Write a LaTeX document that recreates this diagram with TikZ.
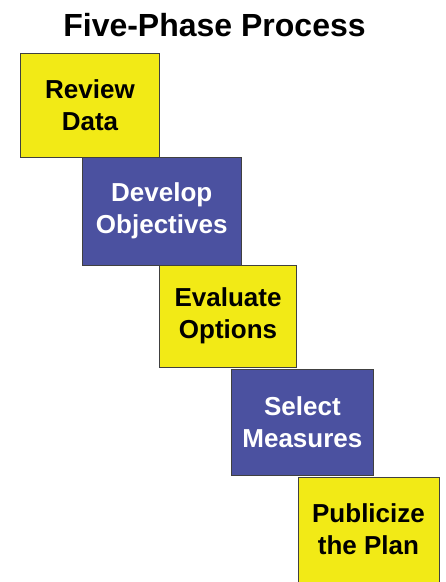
\documentclass[tikz,border=0pt]{standalone}
\usepackage{fontspec}
\setmainfont{Liberation Sans}
\definecolor{phaseyellow}{RGB}{242,234,22}
\definecolor{phaseblue}{RGB}{75,81,160}
\begin{document}
\begin{tikzpicture}[x=1pt, y=-1pt,
  box/.style={draw=black!75, line width=.8pt, align=center, inner sep=0pt,
    font=\fontsize{26}{32}\selectfont\bfseries},
  yel/.style={box, fill=phaseyellow, text=black},
  blu/.style={box, fill=phaseblue, text=white}]
\useasboundingbox (0,0) rectangle (446,582);
\node[font=\fontsize{32}{38}\selectfont\bfseries, anchor=base] (title) at (214.5,36) {Five-Phase Process};
\node[yel, minimum width=139pt, minimum height=104pt] (review) at (90,105) {Review\\Data};
\node[blu, minimum width=159.5pt, minimum height=108pt] (develop) at (161.75,211) {Develop\\Objectives};
\node[yel, minimum width=137.7pt, minimum height=102pt] (evaluate) at (228,316) {Evaluate\\Options};
\node[blu, minimum width=142.7pt, minimum height=106.5pt] (select) at (302.4,422.2) {Select\\Measures};
\node[yel, minimum width=141pt, minimum height=105pt] (publicize) at (368.5,529.5) {Publicize\\the Plan};
\end{tikzpicture}
\end{document}
